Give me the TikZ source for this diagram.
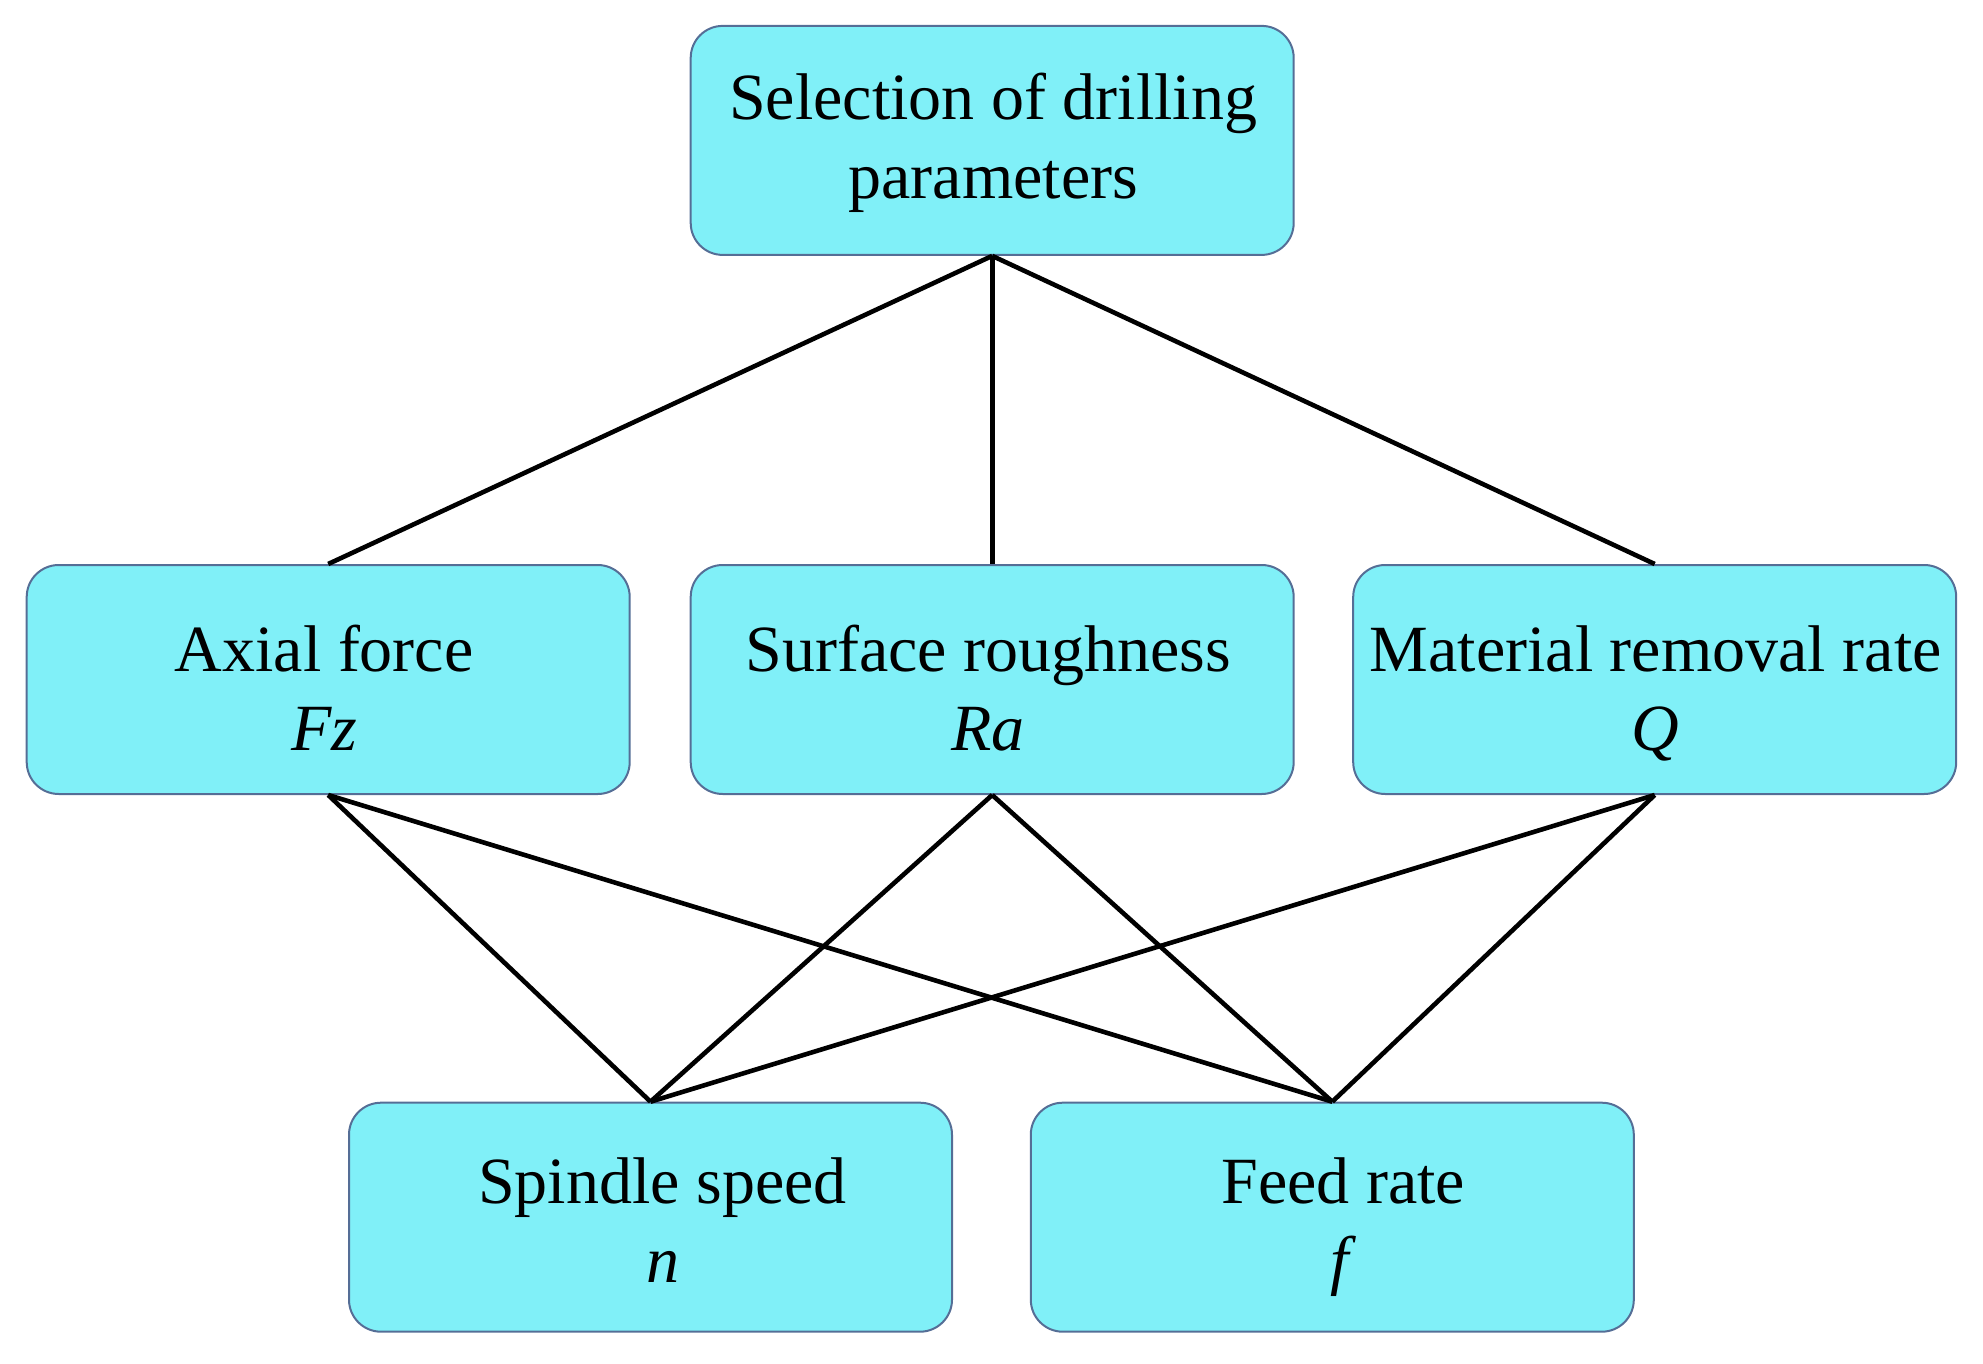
\documentclass[tikz,border=0pt]{standalone}
\usepackage{fontspec}
\setmainfont{Liberation Serif}
\definecolor{boxfill}{RGB}{128,240,248}
\definecolor{boxline}{RGB}{85,110,150}
\begin{document}
\begin{tikzpicture}[x=0.5pt,y=-0.5pt,
  box/.style={draw=boxline, line width=1pt, fill=boxfill, rounded corners=16pt,
    minimum width=301.5pt, minimum height=114.5pt, inner sep=0pt},
  txt/.style={align=center, font=\fontsize{33}{39.5}\selectfont, inner sep=0pt},
  conn/.style={line width=2.3pt, black}]
\useasboundingbox (0,0) rectangle (1983,1364);
\node[box] (top) at (992.2,140.4) {};
\node[box] (fz) at (328.2,679.5) {};
\node[box] (ra) at (992.2,679.5) {};
\node[box] (q) at (1654.7,679.5) {};
\node[box] (n) at (650.5,1217.2) {};
\node[box] (f) at (1332.3,1217.2) {};
\node[txt, yshift=-1.5pt, xshift=0.5pt] (top-t) at (top) {\strut Selection of drilling\\\strut parameters};
\node[txt, yshift=-8pt, xshift=-2pt] (fz-t) at (fz) {\strut Axial force\\\strut\textit{Fz}};
\node[txt, yshift=-8pt, xshift=-2pt] (ra-t) at (ra) {\strut Surface roughness\\\strut\textit{Ra}};
\node[txt, yshift=-8pt, xshift=0.5pt] (q-t) at (q) {\strut Material removal rate\\\strut\textit{Q}};
\node[txt, yshift=-5pt, xshift=6pt] (n-t) at (n) {\strut Spindle speed\\\strut\textit{n}};
\node[txt, yshift=-5pt, xshift=5.5pt] (f-t) at (f) {\strut Feed rate\\\strut\textit{f}};
\draw[conn] (top.south) -- (fz.north);
\draw[conn] (top.south) -- (ra.north);
\draw[conn] (top.south) -- (q.north);
\draw[conn] (fz.south) -- (n.north);
\draw[conn] (fz.south) -- (f.north);
\draw[conn] (ra.south) -- (n.north);
\draw[conn] (ra.south) -- (f.north);
\draw[conn] (q.south) -- (n.north);
\draw[conn] (q.south) -- (f.north);
\end{tikzpicture}
\end{document}
